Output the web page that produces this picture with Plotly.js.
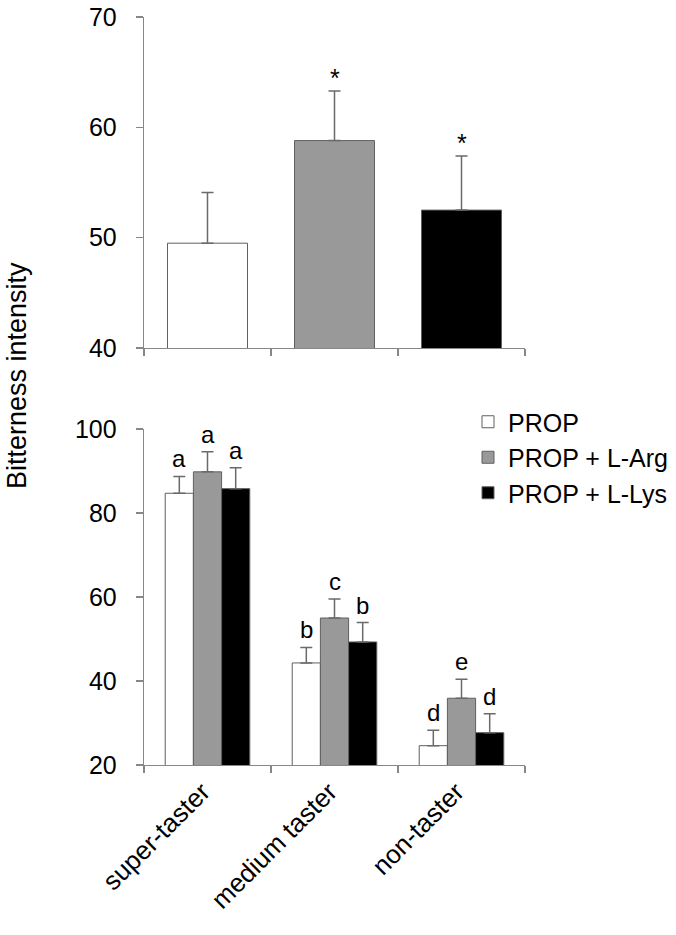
<!DOCTYPE html>
<html>
<head>
<meta charset="utf-8">
<script src="https://cdn.plot.ly/plotly-3.0.1.min.js"></script>
<style>html,body{margin:0;padding:0;background:#fff;}#chart{width:676px;height:935px;}</style>
</head>
<body>
<div id="chart"></div>
<script>
// ---- data ----
const categories = ['super-taster', 'medium taster', 'non-taster'];
const treatments = ['PROP', 'PROP + L-Arg', 'PROP + L-Lys'];
const overallMean = [49.5, 58.8, 52.5];
const overallErr = [4.6, 4.5, 4.9];
const overallMarks = ['', '*', '*'];
const propMean = [84.7, 44.3, 24.6];
const propErr = [4.0, 3.7, 3.7];
const argMean = [89.8, 55.0, 35.9];
const argErr = [4.8, 4.5, 4.5];
const lysMean = [85.8, 49.3, 27.7];
const lysErr = [5.0, 4.6, 4.5];
const propLetters = ['a', 'b', 'd'];
const argLetters = ['a', 'c', 'e'];
const lysLetters = ['a', 'b', 'd'];

// ---- styles ----
const FONT = 'Arial, "Liberation Sans", Helvetica, sans-serif';
const fills = ['#ffffff', '#999999', '#000000'];
const outline = '#606060';
const axisColor = '#878787';
const errStyle = (arr) => ({type: 'data', array: arr, arrayminus: arr.map(() => 0), symmetric: false,
  color: '#6a6a6a', thickness: 1.5, width: 6});

const W = 676, H = 935;
const M = {l: 144, r: 151, t: 17, b: 170, autoexpand: false};
const plotW = W - M.l - M.r;
const plotH = H - M.t - M.b;
const BARGAP = 0.334;

const traces = [];
// top panel: overall
traces.push({
  type: 'bar', x: treatments, y: overallMean, xaxis: 'x2', yaxis: 'y2',
  width: 0.63, showlegend: false,
  marker: {color: fills, line: {color: outline, width: 1}},
  error_y: errStyle(overallErr), hoverinfo: 'none'
});
// bottom panel: per taster group
const series = [
  {name: treatments[0], y: propMean, e: propErr},
  {name: treatments[1], y: argMean, e: argErr},
  {name: treatments[2], y: lysMean, e: lysErr}
];
series.forEach((s, i) => {
  traces.push({
    type: 'bar', name: s.name, x: categories, y: s.y, xaxis: 'x', yaxis: 'y',
    marker: {color: fills[i], line: {color: outline, width: 1}},
    error_y: errStyle(s.e), hoverinfo: 'none'
  });
});

const annotations = [];
// asterisks top
treatments.forEach((t, i) => {
  if (overallMarks[i]) annotations.push({
    x: t, y: overallMean[i] + overallErr[i], xref: 'x2', yref: 'y2',
    text: overallMarks[i], showarrow: false, yanchor: 'bottom', yshift: -3,
    font: {family: FONT, size: 25, color: '#000'}
  });
});
// letters bottom
const barPx = (plotW / categories.length) * (1 - BARGAP) / 3;
const letterSets = [propLetters, argLetters, lysLetters];
series.forEach((s, j) => {
  categories.forEach((c, i) => {
    annotations.push({
      x: c, y: s.y[i] + s.e[i], xref: 'x', yref: 'y',
      text: letterSets[j][i], showarrow: false, yanchor: 'bottom', yshift: 2,
      xshift: (j - 1) * barPx,
      font: {family: FONT, size: 24, color: '#000'}
    });
  });
});
// y title
annotations.push({
  text: 'Bitterness intensity', textangle: -90, showarrow: false,
  xref: 'paper', yref: 'paper', x: 0, xshift: -127, y: 1 - (376 - M.t) / plotH,
  xanchor: 'center', yanchor: 'middle',
  font: {family: FONT, size: 27, color: '#000'}
});

const yAxisCommon = {
  showline: true, linecolor: axisColor, linewidth: 1.3, ticks: 'outside', ticklen: 7,
  tickcolor: axisColor, tickwidth: 1.3, showgrid: false, zeroline: false,
  tickfont: {family: FONT, size: 25, color: '#000'}, ticklabelstandoff: 14
};
const xAxisCommon = {
  type: 'category', showline: true, linecolor: axisColor, linewidth: 1.3, ticks: 'outside',
  ticklen: 7, tickcolor: axisColor, tickwidth: 1.3, tickson: 'boundaries', showgrid: false,
  zeroline: false, tickfont: {family: FONT, size: 26, color: '#000'}
};

const layout = {
  width: W, height: H, margin: M, paper_bgcolor: '#fff', plot_bgcolor: '#fff',
  barmode: 'group', bargap: BARGAP, bargroupgap: 0,
  font: {family: FONT, color: '#000'},
  xaxis: Object.assign({}, xAxisCommon, {anchor: 'y', domain: [0, 1], tickangle: -45, ticklabelshift: -5}),
  yaxis: Object.assign({}, yAxisCommon, {anchor: 'x', domain: [0, 1 - (429 - M.t) / plotH], range: [20, 100], dtick: 20}),
  xaxis2: Object.assign({}, xAxisCommon, {anchor: 'y2', domain: [0, 1], showticklabels: false}),
  yaxis2: Object.assign({}, yAxisCommon, {anchor: 'x2', domain: [1 - (348 - M.t) / plotH, 1], range: [40, 70], dtick: 10}),
  legend: {
    x: (468 - M.l) / plotW, xanchor: 'left', y: 1 - (399 - M.t) / plotH, yanchor: 'top',
    font: {family: FONT, size: 25, color: '#000'}, bgcolor: 'rgba(0,0,0,0)',
    traceorder: 'normal', itemclick: false
  },
  annotations: annotations,
  showlegend: true
};

Plotly.newPlot('chart', traces, layout, {staticPlot: true});
</script>
</body>
</html>
